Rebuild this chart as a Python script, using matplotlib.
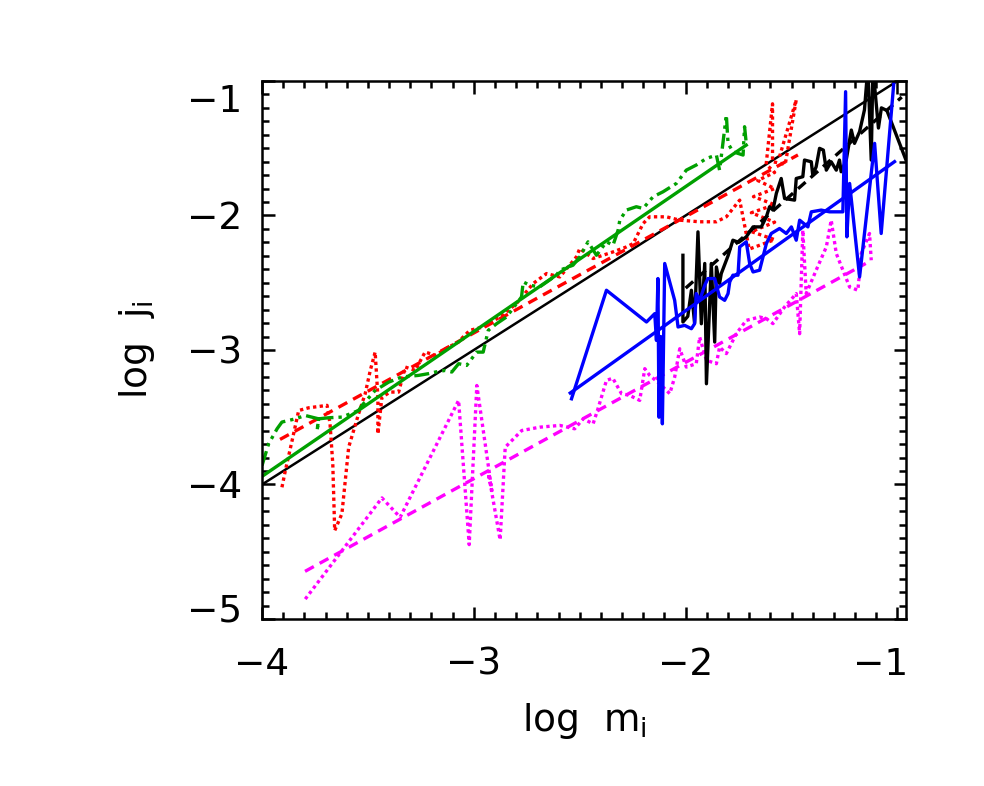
import numpy as np
import matplotlib
matplotlib.use("Agg")
import matplotlib.pyplot as plt
import matplotlib.transforms as mtransforms
from matplotlib.ticker import FixedLocator, MultipleLocator

plt.rcParams["font.family"] = ["DejaVu Sans"]
plt.rcParams["mathtext.fontset"] = "dejavusans"

# green sample (dash-dot-dot) and its fit
green_x = [-4.0, -3.969, -3.929, -3.906, -3.843, -3.796, -3.733, -3.74, -3.733, -3.685, -3.623,
           -3.544, -3.528, -3.466, -3.402, -3.34, -3.261, -3.214, -3.182, -3.135, -3.104, -3.072,
           -3.034, -2.987, -2.956, -2.932, -2.893, -2.846, -2.775, -2.767, -2.736, -2.689, -2.61,
           -2.594, -2.532, -2.5, -2.461, -2.421, -2.374, -2.343, -2.319, -2.311, -2.28, -2.233,
           -2.201, -2.154, -2.107, -2.044, -1.997, -1.95, -1.902, -1.855, -1.84, -1.832, -1.808,
           -1.8, -1.777, -1.729, -1.722, -1.714]
green_y = [-3.859, -3.698, -3.586, -3.536, -3.512, -3.487, -3.512, -3.60, -3.512, -3.504, -3.499,
           -3.45, -3.412, -3.301, -3.239, -3.201, -3.189, -3.176, -3.164, -3.152, -3.164, -3.102,
           -3.115, -3.016, -3.016, -2.854, -2.805, -2.755, -2.606, -2.494, -2.519, -2.531, -2.444,
           -2.407, -2.37, -2.308, -2.196, -2.296, -2.196, -2.221, -2.109, -2.035, -1.96, -1.935,
           -1.948, -1.861, -1.824, -1.762, -1.663, -1.625, -1.576, -1.551, -1.663, -1.563, -1.253,
           -1.464, -1.526, -1.551, -1.34, -1.464]
green_fit_x = [-4.0, -1.714]
green_fit_y = [-3.94, -1.477]

# red sample (dotted) and its fit
red_x = [-3.906, -3.89, -3.858, -3.827, -3.78, -3.693, -3.679, -3.666, -3.657, -3.623, -3.591,
         -3.544, -3.513, -3.489, -3.466, -3.453, -3.453, -3.434, -3.395, -3.355, -3.324, -3.277,
         -3.23, -3.182, -3.119, -3.072, -3.066, -3.019, -2.956, -2.877, -2.799, -2.72, -2.657,
         -2.594, -2.516, -2.5, -2.437, -2.343, -2.28, -2.248, -2.201, -2.17, -2.091, -2.028,
         -1.934, -1.855, -1.808, -1.745, -1.70, -1.58, -1.69, -1.58, -1.69, -1.58, -1.68,
         -1.58, -1.66, -1.58, -1.62, -1.59, -1.59, -1.53, -1.478, -1.557]
red_y = [-4.021, -3.897, -3.673, -3.45, -3.43, -3.412, -3.549, -3.847, -4.343, -4.218, -3.723,
         -3.474, -3.325, -3.152, -3.016, -3.351, -3.624, -3.351, -3.313, -3.313, -3.127, -3.152,
         -3.015, -3.04, -2.978, -2.941, -2.928, -2.854, -2.829, -2.755, -2.655, -2.506, -2.432,
         -2.457, -2.308, -2.246, -2.32, -2.271, -2.234, -2.209, -2.06, -2.01, -2.01, -2.035,
         -2.047, -2.047, -2.01, -1.886, -2.25, -2.18, -2.12, -2.05, -1.98, -1.92, -1.86,
         -1.80, -1.74, -1.68, -1.62, -1.17, -1.60, -1.62, -1.14, -1.563]
red_fit_x = [-3.915, -1.47]
red_fit_y = [-3.665, -1.55]

# magenta sample (dotted) and its fit
mag_x = [-3.796, -3.434, -3.348, -3.072, -3.022, -2.986, -2.915, -2.931, -2.876, -2.852, -2.774,
         -2.689, -2.594, -2.524, -2.484, -2.437, -2.414, -2.374, -2.344, -2.303, -2.264, -2.217,
         -2.193, -2.17, -2.123, -2.075, -2.052, -2.028, -1.997, -1.95, -1.934, -1.902, -1.855,
         -1.84, -1.808, -1.761, -1.714, -1.651, -1.619, -1.588, -1.533, -1.478, -1.462, -1.447,
         -1.431, -1.384, -1.336, -1.313, -1.289, -1.226, -1.187, -1.171, -1.132, -1.124]
mag_y = [-4.852, -4.100, -4.244, -3.375, -4.447, -3.264, -4.045, -3.919, -4.412, -3.723, -3.599,
         -3.574, -3.561, -3.586, -3.512, -3.549, -3.437, -3.226, -3.21, -3.325, -3.338, -3.375,
         -3.139, -3.189, -3.251, -3.325, -3.202, -2.991, -3.127, -3.102, -2.904, -3.077, -3.102,
         -2.978, -3.027, -2.879, -2.78, -2.755, -2.767, -2.804, -2.68, -2.581, -2.879, -2.109,
         -2.581, -2.407, -2.234, -2.035, -2.283, -2.532, -2.556, -2.283, -2.134, -2.333]
mag_fit_x = [-3.797, -1.15]
mag_fit_y = [-4.646, -2.357]

# black sample (solid) and its fit
blk_x = [-2.013, -2.013, -1.99, -1.973, -1.958, -1.942, -1.926, -1.91, -1.902, -1.879, -1.863,
         -1.855, -1.84, -1.832, -1.80, -1.777, -1.75, -1.714, -1.682, -1.643, -1.619, -1.604,
         -1.588, -1.572, -1.549, -1.533, -1.486, -1.478, -1.447, -1.439, -1.407, -1.40, -1.384,
         -1.368, -1.35, -1.336, -1.313, -1.289, -1.274, -1.266, -1.242, -1.218, -1.203, -1.179,
         -1.156, -1.14, -1.124, -1.116, -1.09, -1.076, -1.05, -0.96]
blk_y = [-2.296, -2.792, -2.75, -2.556, -2.80, -2.122, -2.805, -2.357, -3.251, -2.357, -2.941,
         -2.383, -2.506, -2.432, -2.30, -2.184, -2.20, -2.159, -2.085, -2.085, -2.01, -1.935,
         -1.96, -1.836, -1.725, -1.874, -1.886, -1.725, -1.712, -1.588, -1.601, -1.70, -1.638,
         -1.501, -1.514, -1.663, -1.601, -1.663, -1.588, -1.675, -1.588, -1.365, -1.464, -1.377,
         -1.215, -0.90, -1.588, -0.90, -1.35, -1.20, -1.22, -1.588]
blk_fit_x = [-2.0, -0.98]
blk_fit_y = [-2.54, -1.12]

# blue sample (solid) and its fit
blue_x = [-2.539, -2.374, -2.185, -2.146, -2.138, -2.131, -2.126, -2.118, -2.11, -2.099, -2.052,
          -2.036, -2.005, -1.973, -1.958, -1.95, -1.934, -1.91, -1.895, -1.863, -1.84, -1.816,
          -1.8, -1.792, -1.777, -1.753, -1.745, -1.714, -1.698, -1.682, -1.651, -1.619, -1.596,
          -1.557, -1.525, -1.501, -1.478, -1.462, -1.423, -1.407, -1.36, -1.321, -1.258, -1.245,
          -1.239, -1.226, -1.179, -1.108, -1.077, -1.014]
blue_y = [-3.363, -2.556, -2.792, -2.73, -2.929, -2.469, -3.5, -2.9, -3.549, -2.357, -2.631,
          -2.829, -2.817, -2.842, -2.805, -2.581, -2.631, -2.519, -2.469, -2.469, -2.606, -2.631,
          -2.581, -2.494, -2.444, -2.444, -2.234, -2.196, -2.357, -2.42, -2.407, -2.209, -2.134,
          -2.097, -2.134, -2.085, -2.184, -2.035, -2.085, -1.973, -1.96, -1.973, -1.973, -1.08,
          -2.159, -1.762, -2.457, -1.464, -2.134, -0.95]
blue_fit_x = [-2.545, -1.014]
blue_fit_y = [-3.32, -1.60]

# reference line j = m
ref_x = [-4.0, -1.0]
ref_y = [-4.0, -1.0]

xticks = [-4, -3, -2, -1]
yticks = [-5, -4, -3, -2, -1]

GREEN = "#00a000"
DOT = (0, (1.0, 1.0))
DASH = (0, (3.0, 2.0))
DDD = (0, (4.5, 1.5, 1.0, 1.5, 1.0, 1.5))

fig = plt.figure(figsize=(9.84, 7.86), dpi=100)
ax = fig.add_axes([0.2663, 0.2125, 0.9207 - 0.2663, 0.897 - 0.2125])

lw = 2.4
ax.plot(ref_x, ref_y, color="black", lw=1.8)
ax.plot(red_x, red_y, color="red", lw=lw, linestyle=DOT)
ax.plot(red_fit_x, red_fit_y, color="red", lw=lw, linestyle=DASH)
ax.plot(mag_x, mag_y, color="magenta", lw=lw, linestyle=DOT)
ax.plot(mag_fit_x, mag_fit_y, color="magenta", lw=lw, linestyle=DASH)
ax.plot(green_x, green_y, color=GREEN, lw=lw, linestyle=DDD)
ax.plot(green_fit_x, green_fit_y, color=GREEN, lw=lw)
ax.plot(blk_x, blk_y, color="black", lw=lw)
ax.plot(blk_fit_x, blk_fit_y, color="black", lw=lw, linestyle=DASH)
ax.plot(blue_x, blue_y, color="blue", lw=lw)
ax.plot(blue_fit_x, blue_fit_y, color="blue", lw=lw)

ax.set_xlim(-4, -0.96)
ax.set_ylim(-5, -1)
ax.xaxis.set_major_locator(FixedLocator(xticks))
ax.xaxis.set_minor_locator(MultipleLocator(0.1))
ax.yaxis.set_major_locator(FixedLocator(yticks))
ax.yaxis.set_minor_locator(MultipleLocator(0.1))
ax.tick_params(which="both", direction="in", top=True, right=True, width=1.8)
ax.tick_params(which="major", length=9, labelsize=27, pad=20)
ax.tick_params(which="minor", length=5)
ax.tick_params(axis="y", which="major", pad=14)
for s in ax.spines.values():
    s.set_linewidth(1.8)

# nudge the end labels inward, like the original
def nudge(tick, dx, dy):
    off = mtransforms.ScaledTranslation(dx / 72, dy / 72, fig.dpi_scale_trans)
    tick.label1.set_transform(tick.label1.get_transform() + off)

yt = ax.yaxis.get_major_ticks(len(yticks))
nudge(yt[-1], 0, -12)
nudge(yt[0], 0, 8)
xt = ax.xaxis.get_major_ticks(len(xticks))
nudge(xt[-1], -12, 0)

ax.set_xlabel(r"log  m$_\mathregular{i}$", fontsize=27, labelpad=13)
ax.set_ylabel(r"log  j$_\mathregular{i}$", fontsize=27, labelpad=22)

fig.savefig("out.png", dpi=100)
